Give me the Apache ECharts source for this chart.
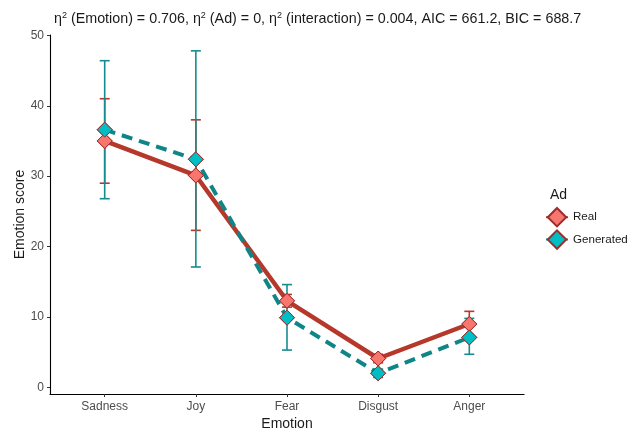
<!DOCTYPE html>
<html><head><meta charset="utf-8">
<script src="https://cdn.jsdelivr.net/npm/echarts@6/dist/echarts.min.js"></script>
<style>html,body{margin:0;padding:0;background:#fff}#c{width:630px;height:436px}</style>
</head><body><div id="c"></div>
<script>
const categories = ['Sadness', 'Joy', 'Fear', 'Disgust', 'Anger'];
const realMean  = [35.0, 30.1, 12.3, 4.1, 9.0];
const realLower = [29.0, 22.3, 11.4, 3.5, 7.2];
const realUpper = [41.0, 38.0, 13.2, 4.7, 10.8];
const genMean   = [36.6, 32.4, 9.9, 2.0, 7.1];
const genLower  = [26.8, 17.1, 5.3, 1.4, 4.7];
const genUpper  = [46.4, 47.8, 14.6, 2.6, 9.8];
const yTicks = [0, 10, 20, 30, 40, 50];
const seriesNames = ['Real', 'Generated'];

const FONT = '"Liberation Sans", Arial, sans-serif';
const RED_LINE = '#B5382B', RED_FILL = '#F8766D';
const TEAL_LINE = '#0E8587', TEAL_FILL = '#00BFC4', TEAL_ERR = '#178C90';
const BORDER = '#9B2D2D';

const xs = categories.map((c, i) => i + 1);
const pts = arr => arr.map((v, i) => [xs[i], v]);
const errs = (lo, hi) => lo.map((v, i) => [xs[i], v, hi[i]]);

function errRender(color) {
  return function (params, api) {
    const x = api.value(0);
    const a = api.coord([x, api.value(1)]);
    const b = api.coord([x, api.value(2)]);
    const w = 5;
    const st = { stroke: color, lineWidth: 1.6 };
    return { type: 'group', children: [
      { type: 'line', shape: { x1: a[0], y1: a[1], x2: b[0], y2: b[1] }, style: st },
      { type: 'line', shape: { x1: a[0] - w, y1: a[1], x2: a[0] + w, y2: a[1] }, style: st },
      { type: 'line', shape: { x1: b[0] - w, y1: b[1], x2: b[0] + w, y2: b[1] }, style: st }
    ]};
  };
}

const chart = echarts.init(document.getElementById('c'), null, { renderer: 'canvas' });
chart.setOption({
  animation: false,
  backgroundColor: '#fff',
  textStyle: { fontFamily: FONT },
  title: [{
    text: '\u03b7{s|2} (Emotion) = 0.706, \u03b7{s|2} (Ad) = 0, \u03b7{s|2} (interaction) = 0.004, AIC = 661.2, BIC = 688.7',
    left: 49, top: 6,
    textStyle: { fontFamily: FONT, fontSize: 14.3, fontWeight: 'normal', color: '#1a1a1a',
      rich: { s: { fontSize: 9, verticalAlign: 'top', padding: [0, 0, 8, 0], fontFamily: FONT, color: '#1a1a1a' } } }
  }, {
    text: 'Ad', left: 545, top: 183,
    textStyle: { fontFamily: FONT, fontSize: 14, fontWeight: 'normal', color: '#1a1a1a' }
  }],
  legend: {
    orient: 'vertical', left: 545, top: 207, padding: 0, itemGap: 2, itemWidth: 22, itemHeight: 23,
    data: seriesNames,
    textStyle: { fontFamily: FONT, fontSize: 11.6, color: '#1a1a1a' }
  },
  grid: { left: 50, right: 106, top: 35, bottom: 37.5, containLabel: false },
  xAxis: {
    type: 'value', min: 0.4, max: 5.6,
    name: 'Emotion', nameLocation: 'middle', nameGap: 23, nameMoveOverlap: false,
    nameTextStyle: { fontFamily: FONT, fontSize: 14, color: '#1a1a1a' },
    axisLine: { show: true, onZero: false, lineStyle: { color: '#000', width: 1.1 } },
    axisTick: { show: true, customValues: xs, length: 3, lineStyle: { color: '#333' } },
    axisLabel: { customValues: xs, formatter: v => categories[Math.round(v) - 1] || '', fontFamily: FONT, fontSize: 12, color: '#4D4D4D', margin: 7 },
    splitLine: { show: false }
  },
  yAxis: {
    type: 'value', min: -0.94, max: 50.05,
    name: 'Emotion score', nameLocation: 'middle', nameGap: 23, nameMoveOverlap: false,
    nameTextStyle: { fontFamily: FONT, fontSize: 14, color: '#1a1a1a' },
    axisLine: { show: true, onZero: false, lineStyle: { color: '#000', width: 1.1 } },
    axisTick: { show: true, customValues: yTicks, length: 3, lineStyle: { color: '#333' } },
    axisLabel: { customValues: yTicks, fontFamily: FONT, fontSize: 12, color: '#4D4D4D', margin: 6 },
    splitLine: { show: false }
  },
  series: [
    { name: 'Real error', type: 'custom', renderItem: errRender(RED_LINE), data: errs(realLower, realUpper), z: 2, silent: true },
    { name: 'Generated error', type: 'custom', renderItem: errRender(TEAL_ERR), data: errs(genLower, genUpper), z: 2, silent: true },
    { name: 'Real', type: 'line', data: pts(realMean), z: 3,
      symbol: 'diamond', symbolSize: 15,
      lineStyle: { color: RED_LINE, width: 4.5 },
      itemStyle: { color: RED_FILL, borderColor: BORDER, borderWidth: 1 } },
    { name: 'Generated', type: 'line', data: pts(genMean), z: 4,
      symbol: 'diamond', symbolSize: 15,
      lineStyle: { color: TEAL_LINE, width: 4, type: [11, 7] },
      itemStyle: { color: TEAL_FILL, borderColor: BORDER, borderWidth: 1 } },
    { name: 'Real', type: 'scatter', data: pts(realMean), z: 5, symbol: 'diamond', symbolSize: 15,
      itemStyle: { color: RED_FILL, borderColor: BORDER, borderWidth: 1, opacity: 1 } },
    { name: 'Generated', type: 'scatter', data: pts(genMean), z: 5, symbol: 'diamond', symbolSize: 15,
      itemStyle: { color: TEAL_FILL, borderColor: BORDER, borderWidth: 1, opacity: 1 } }
  ]
});
</script></body></html>
